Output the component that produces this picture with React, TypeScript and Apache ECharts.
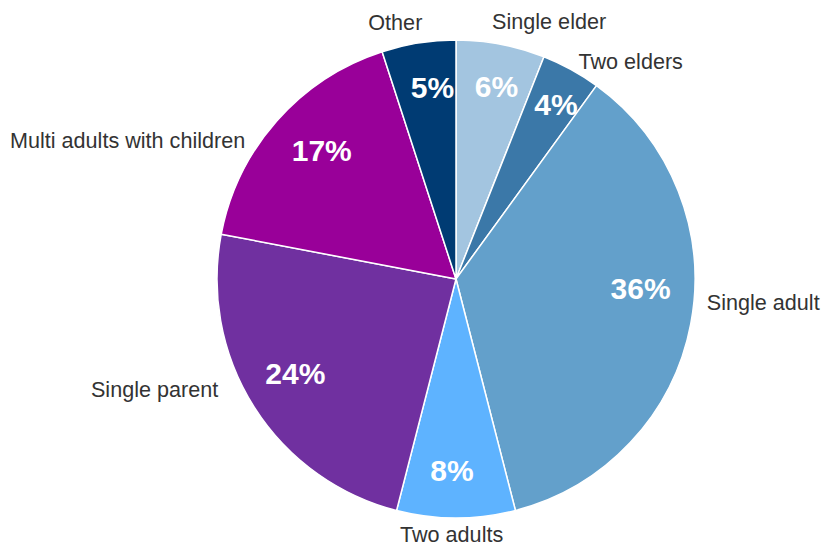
import React, { useEffect, useRef } from "react";
import * as echarts from "echarts";

const categories = [
  "Single elder",
  "Two elders",
  "Single adult",
  "Two adults",
  "Single parent",
  "Multi adults with children",
  "Other",
];
const values = [6, 4, 36, 8, 24, 17, 5];
const colors = ["#a3c5e0", "#3b78a8", "#63a0cb", "#5eb3ff", "#7030a0", "#990099", "#003b73"];
// per-slice label line lengths (label placement tuning)
const labelLen = [23, 9, -116, 16, -32, -30, 21];
const labelLen2 = [-18, -2, 125, -61, 58, 49, -12];
// small nudges of the percentage labels
const pctDx = [4, 6, -7, -4, 4, 12, 7];
const pctDy = [-1, -4, -27, -4, -10, 0, 1];

export default function App() {
  const ref = useRef<HTMLDivElement>(null);
  useEffect(() => {
    if (!ref.current) return;
    document.body.style.margin = "0";
    const chart = echarts.init(ref.current, undefined, { renderer: "svg" });
    const font = "'Liberation Sans', Arial, sans-serif";
    chart.setOption({
      animation: false,
      backgroundColor: "#ffffff",
      series: [
        {
          type: "pie",
          center: [456, 279],
          radius: [0, 239],
          startAngle: 90,
          clockwise: true,
          avoidLabelOverlap: false,
          silent: true,
          itemStyle: { borderColor: "#ffffff", borderWidth: 1.5 },
          label: {
            show: true,
            position: "outside",
            formatter: "{b}",
            color: "#333333",
            fontSize: 21.6,
            fontFamily: font,
            distanceToLabelLine: 5,
          },
          labelLine: { show: false },
          data: categories.map((name, i) => ({
            name,
            value: values[i],
            itemStyle: { color: colors[i] },
            labelLine: { show: false, length: labelLen[i], length2: labelLen2[i] },
          })),
        },
        {
          type: "pie",
          center: [456, 279],
          radius: [145, 239],
          startAngle: 90,
          clockwise: true,
          avoidLabelOverlap: false,
          silent: true,
          itemStyle: { color: "rgba(0,0,0,0)", borderWidth: 0 },
          label: {
            show: true,
            position: "inside",
            formatter: (p: any) => p.value + "%",
            color: "#ffffff",
            fontSize: 30,
            fontWeight: "bold",
            fontFamily: font,
          },
          labelLine: { show: false },
          labelLayout: (p: any) => ({ dx: pctDx[p.dataIndex], dy: pctDy[p.dataIndex] }),
          data: categories.map((name, i) => ({ name, value: values[i] })),
        },
      ],
    });
    return () => chart.dispose();
  }, []);
  return <div ref={ref} style={{ width: 821, height: 547 }} />;
}
